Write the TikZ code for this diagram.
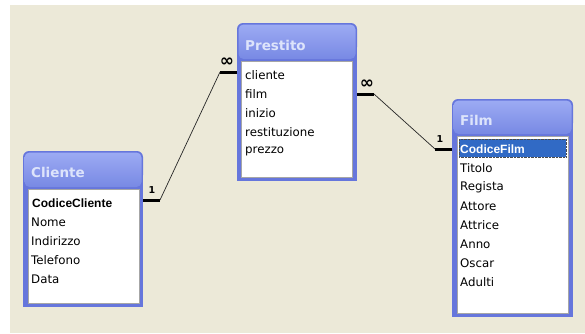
\documentclass[tikz,border=0pt]{standalone}
\usepackage{fontspec}
\setmainfont{DejaVu Sans}
\newfontfamily\keyfont{Liberation Sans}
\usetikzlibrary{calc}

\definecolor{bg}{HTML}{ECE9D8}
\definecolor{frameblue}{HTML}{6676DC}
\definecolor{titletop}{HTML}{9CAAF3}
\definecolor{titlebot}{HTML}{7889E4}
\definecolor{titletext}{HTML}{DDE4FB}
\definecolor{selblue}{HTML}{316AC5}

\tikzset{
	field/.style = {anchor=west, inner sep=0pt, font=\fontsize{11.8}{12}\selectfont},
	keyfield/.style = {field, font=\keyfont\bfseries\fontsize{12}{12}\selectfont},
	title/.style = {anchor=west, inner sep=0pt, text=titletext, font=\bfseries\fontsize{13.5}{14}\selectfont},
	listbox/.style = {draw=gray!70, line width=1pt, fill=white},
	barend/.style = {line width=3pt, black},
	link/.style = {line width=0.7pt, black!85},
	card/.style = {inner sep=0pt, font=\bfseries\fontsize{9.5}{10}\selectfont},
	inf/.style = {inner sep=0pt, font=\bfseries\fontsize{17}{17}\selectfont}
}

\begin{document}
\begin{tikzpicture}[x=1pt, y=-1pt]
		\useasboundingbox (0,0) rectangle (585,333);
		\fill[white] (0,0) rectangle (585,333);
		\fill[bg] (9.5,4.5) rectangle (585,333);

		% table Cliente
		\begin{scope}[shift={(23,151)}]
			\def\w{120}
			\def\h{156}
			\fill[frameblue, rounded corners=6] (0,0) rectangle (\w,30);
			\fill[frameblue] (0,15) rectangle (\w,\h);
			\shade[top color=titletop, bottom color=titlebot, rounded corners=5] (1.5,1.5) rectangle (\w-1.5,36);
			\draw[listbox] (5,38) rectangle (\w-4,\h-4);
			\coordinate (cliente-r) at (\w,0);

			\node [title] (cliente) at (8,21) {Cliente};

			\node [keyfield] (codcli) at (9,52) {CodiceCliente};
			\node [field] (nome) at (8,71) {Nome};
			\node [field] (indirizzo) at (8,90) {Indirizzo};
			\node [field] (telefono) at (8,109) {Telefono};
			\node [field] (data) at (8,128) {Data};
		\end{scope}

		% table Prestito
		\begin{scope}[shift={(237,23)}]
			\def\w{120}
			\def\h{158}
			\fill[frameblue, rounded corners=6] (0,0) rectangle (\w,30);
			\fill[frameblue] (0,15) rectangle (\w,\h);
			\shade[top color=titletop, bottom color=titlebot, rounded corners=5] (1.5,1.5) rectangle (\w-1.5,36);
			\draw[listbox] (4.5,38) rectangle (\w-5,\h-4);
			\coordinate (prestito-l) at (0,0);
			\coordinate (prestito-r) at (\w,0);

			\node [title] (prestito) at (8,22) {Prestito};

			\node [field] (pcli) at (8,52) {cliente};
			\node [field] (pfilm) at (8,71) {film};
			\node [field] (inizio) at (8,90) {inizio};
			\node [field] (restituzione) at (8,109) {restituzione};
			\node [field] (prezzo) at (8,128) {prezzo};
		\end{scope}

		% table Film
		\begin{scope}[shift={(452,99)}]
			\def\w{121}
			\def\h{218}
			\fill[frameblue, rounded corners=6] (0,0) rectangle (\w,30);
			\fill[frameblue] (0,15) rectangle (\w,\h);
			\shade[top color=titletop, bottom color=titlebot, rounded corners=5] (1.5,1.5) rectangle (\w-1.5,35);
			\draw[listbox] (5,37) rectangle (\w-5,\h-4);
			\fill[selblue] (7,40) rectangle (\w-7,58);
			\draw[densely dotted, black!70] (7,40) rectangle (\w-7,58);
			\coordinate (film-l) at (0,0);

			\node [title] (film) at (8,21) {Film};

			\node [keyfield, text=white] (codfilm) at (8,50) {CodiceFilm};
			\node [field] (titolo) at (8,69) {Titolo};
			\node [field] (regista) at (8,88) {Regista};
			\node [field] (attore) at (8,107) {Attore};
			\node [field] (attrice) at (8,126) {Attrice};
			\node [field] (anno) at (8,145) {Anno};
			\node [field] (oscar) at (8,164) {Oscar};
			\node [field] (adulti) at (8,183) {Adulti};
		\end{scope}

		% Cliente -- Prestito
		\draw[barend] ([yshift=3pt]cliente-r |- codcli) -- ++(17,0) coordinate (ca);
		\draw[barend] ([yshift=3pt]prestito-l |- pcli) -- ++(-17,0) coordinate (pa);
		\draw[link] (ca) -- (pa);
		\node [card, yshift=10pt] (one-a) at ($(ca)+(-8,0)$) {1};
		\node [inf, yshift=10pt] (many-a) at ($(pa)+(7,0)$) {∞};

		% Prestito -- Film
		\draw[barend] (prestito-r |- pfilm) -- ++(17,0) coordinate (pb);
		\draw[barend] (film-l |- codfilm) -- ++(-17,0) coordinate (fb);
		\draw[link] (pb) -- (fb);
		\node [inf, yshift=10pt] (many-b) at ($(pb)+(-7,0)$) {∞};
		\node [card, yshift=10pt] (one-b) at ($(fb)+(5,0)$) {1};
	\end{tikzpicture}
\end{document}
